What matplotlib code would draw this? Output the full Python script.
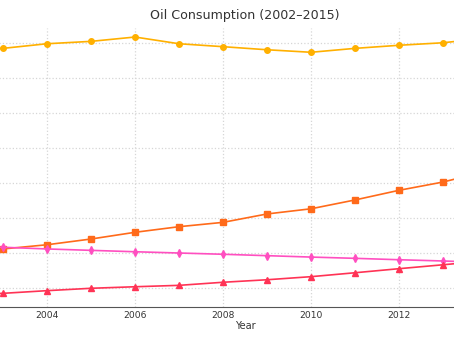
import matplotlib.pyplot as plt

# Data (million barrels per day)
years = list(range(2002, 2016))
series_a = [19.50, 19.62, 19.95, 20.12, 20.43, 19.95, 19.74, 19.52, 19.34, 19.62, 19.84, 20.02, 20.36, 20.60]
series_b = [5.00, 5.29, 5.59, 6.00, 6.48, 6.88, 7.19, 7.79, 8.16, 8.79, 9.48, 10.07, 10.86, 11.50]
series_c = [5.50, 5.41, 5.29, 5.19, 5.09, 5.00, 4.91, 4.81, 4.71, 4.62, 4.52, 4.43, 4.33, 4.24]
series_d = [2.00, 2.12, 2.31, 2.48, 2.59, 2.69, 2.91, 3.09, 3.31, 3.59, 3.88, 4.16, 4.45, 4.70]
xtick_years = [2004, 2006, 2008, 2010, 2012]

fig = plt.figure(figsize=(4.54, 3.41), dpi=100)
# the axes run past the figure edges, as in the reference crop
ax = fig.add_axes([-0.1533, 0.0997, 1.386, 0.818])

ax.plot(years, series_a, color="#FFB000", marker="o", markersize=4, linewidth=1.2)
ax.plot(years, series_b, color="#FF6A1A", marker="s", markersize=4, linewidth=1.2)
ax.plot(years, series_c, color="#FF4FC0", marker="d", markersize=4, linewidth=1.2)
ax.plot(years, series_d, color="#FF3355", marker="^", markersize=4, linewidth=1.2)

ax.set_xlim(2001.35, 2015.65)
ax.set_ylim(1.143, 21.07)
ax.set_xticks(xtick_years)
ax.set_yticks([2.5 * i for i in range(1, 9)])
ax.set_yticklabels([])

ax.grid(True, linestyle=":", color="#d6d6d6", linewidth=0.9)
for side in ["top", "right", "left"]:
    ax.spines[side].set_visible(False)
ax.spines["bottom"].set_color("#555555")
ax.tick_params(axis="x", length=0, labelsize=6.6, colors="#333333", pad=3)
ax.tick_params(axis="y", length=0)

ax.set_xlabel("Year", fontsize=7, color="#333333", labelpad=0.5)
ax.set_title("Oil Consumption (2002\u20132015)", fontsize=9.1, color="#333333", pad=6.8)

fig.savefig("out.png", dpi=100)
